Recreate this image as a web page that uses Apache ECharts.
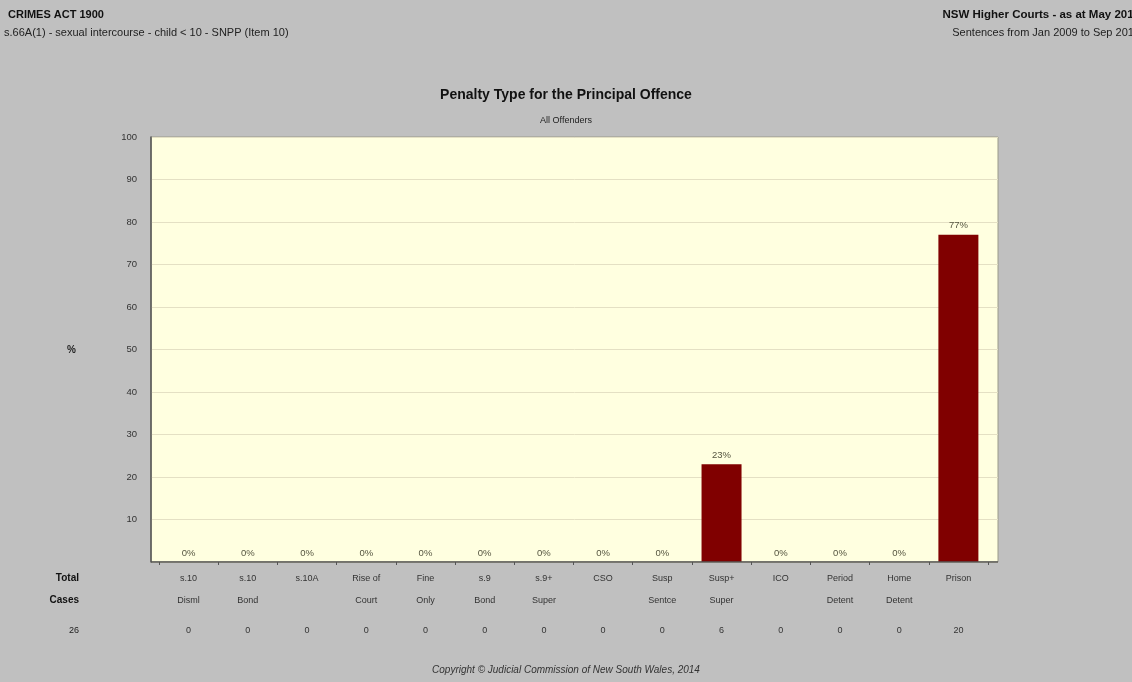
<!DOCTYPE html>
<html><head><meta charset="utf-8">
<script src="https://cdn.jsdelivr.net/npm/echarts@6/dist/echarts.min.js"></script>
<style>html,body{margin:0;padding:0;background:#c0c0c0;}#c{width:1132px;height:682px;}</style>
</head><body><div id="c"></div>
<script>
var categoriesLine1 = ["s.10","s.10","s.10A","Rise of","Fine","s.9","s.9+","CSO","Susp","Susp+","ICO","Period","Home","Prison"];
var categoriesLine2 = ["Disml","Bond","","Court","Only","Bond","Super","","Sentce","Super","","Detent","Detent",""];
var percentValues = [0,0,0,0,0,0,0,0,0,23,0,0,0,77];
var caseCounts = [0,0,0,0,0,0,0,0,0,6,0,0,0,20];
var yTicks = [10,20,30,40,50,60,70,80,90,100];

var FONT = '"Liberation Sans", Arial, sans-serif';
var totalCases = caseCounts.reduce(function(a,b){return a+b;},0);
var cats = categoriesLine1.map(function(_,i){return String(i);});

var chart = echarts.init(document.getElementById('c'));
chart.setOption({
  backgroundColor:'#c0c0c0',
  animation:false,
  textStyle:{fontFamily:FONT},
  grid:[
    {left:151, right:134, top:137, bottom:120, show:true, backgroundColor:'#ffffe0', borderColor:'#9a9a8a', borderWidth:1, containLabel:false},
    {left:159, right:144, top:137, bottom:120, show:false, containLabel:false}
  ],
  xAxis:[
    {type:'category', gridIndex:0, data:['a'], show:false},
    {type:'category', gridIndex:1, data:cats, boundaryGap:true,
     axisLine:{show:false},
     axisTick:{show:true, alignWithLabel:false, length:3, lineStyle:{color:'#555'}},
     axisLabel:{interval:0, margin:6, color:'#333', fontFamily:FONT,
       formatter:function(v){var i=+v; return '{n|'+categoriesLine1[i]+'}\n{n|'+(categoriesLine2[i]||' ')+'}\n{c|'+caseCounts[i]+'}';},
       rich:{n:{fontSize:9, lineHeight:22, color:'#333', fontFamily:FONT}, c:{fontSize:9, lineHeight:38, color:'#333', fontFamily:FONT}}
     }}
  ],
  yAxis:[
    {type:'value', gridIndex:0, min:0, max:100, interval:10,
     axisLine:{show:true, lineStyle:{color:'#555', width:1.5}},
     axisTick:{show:false},
     splitLine:{show:true, lineStyle:{color:'#e4e0c4', width:1}},
     axisLabel:{margin:14, fontSize:9.5, color:'#333', fontFamily:FONT,
       formatter:function(v){return yTicks.indexOf(v)>=0?String(v):'';}}},
    {type:'value', gridIndex:1, min:0, max:100, interval:10, show:false, splitLine:{show:false}}
  ],
  series:[{
    type:'bar', xAxisIndex:1, yAxisIndex:1, data:percentValues, barWidth:40,
    itemStyle:{color:'#800000', borderColor:'#4a0000', borderWidth:0},
    label:{show:true, position:'top', distance:4, fontSize:9.5, color:'#555540', fontFamily:FONT,
      formatter:function(p){return p.value+'%';}}
  }],
  graphic:[
    {type:'line', shape:{x1:151,y1:562,x2:998,y2:562}, style:{stroke:'#555', lineWidth:1.5}, z:50},
    {type:'text', left:8, top:9, style:{text:'CRIMES ACT 1900', font:'bold 11px '+FONT, fill:'#111'}},
    {type:'text', left:4, top:27, style:{text:'s.66A(1) - sexual intercourse - child < 10 - SNPP (Item 10)', font:'11px '+FONT, fill:'#222'}},
    {type:'text', right:-8, top:9, style:{text:'NSW Higher Courts - as at May 2014', font:'bold 11.5px '+FONT, fill:'#111'}},
    {type:'text', right:-8, top:27, style:{text:'Sentences from Jan 2009 to Sep 2013', font:'11px '+FONT, fill:'#222'}},
    {type:'text', left:'center', top:88, style:{text:'Penalty Type for the Principal Offence', font:'bold 14px '+FONT, fill:'#111'}},
    {type:'text', left:'center', top:116, style:{text:'All Offenders', font:'9px '+FONT, fill:'#222'}},
    {type:'text', x:67, y:345, style:{text:'%', font:'bold 10px '+FONT, fill:'#222'}},
    {type:'text', x:79, y:573, style:{text:'Total', font:'bold 10px '+FONT, fill:'#111', align:'right'}},
    {type:'text', x:79, y:595, style:{text:'Cases', font:'bold 10px '+FONT, fill:'#111', align:'right'}},
    {type:'text', x:79, y:626, style:{text:String(totalCases), font:'9px '+FONT, fill:'#222', align:'right'}},
    {type:'text', left:'center', top:665, style:{text:'Copyright \u00A9 Judicial Commission of New South Wales, 2014', font:'italic 10px '+FONT, fill:'#333'}}
  ]
});
</script></body></html>
